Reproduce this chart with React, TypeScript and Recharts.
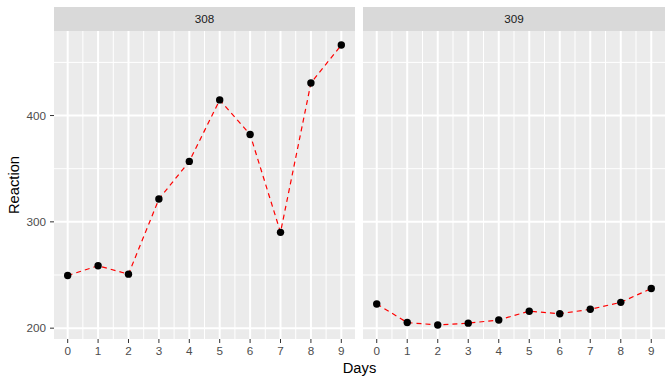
import React from "react";
import { LineChart, Line, XAxis, YAxis, CartesianGrid } from "recharts";

const days = [0, 1, 2, 3, 4, 5, 6, 7, 8, 9];
const reaction308 = [249.56, 258.7047, 250.8006, 321.4398, 356.8519, 414.6901, 382.2038, 290.1486, 430.5853, 466.3535];
const reaction309 = [222.7339, 205.2658, 202.9778, 204.707, 207.7161, 215.9618, 213.6303, 217.7272, 224.2957, 237.3142];
const subjects = ["308", "309"];
const yTicks = [200, 300, 400];
const yMinor = [250, 350, 450];
const xMinor = [0.5, 1.5, 2.5, 3.5, 4.5, 5.5, 6.5, 7.5, 8.5];

const allVals = [...reaction308, ...reaction309];
const yMin = Math.min(...allVals);
const yMax = Math.max(...allVals);
const yPad = (yMax - yMin) * 0.05;
const yDomain = [yMin - yPad, yMax + yPad];
const xDomain = [-0.45, 9.45];

const FONT = "'Liberation Sans', Arial, sans-serif";
const tickStyle = { fill: "#4D4D4D", fontSize: 11.7, fontFamily: FONT };

function Panel({ values, showY, left, width, marginLeft, marginRight }: any) {
  const data = days.map((d, i) => ({ day: d, reaction: values[i] }));
  return (
    <div style={{ position: "absolute", left, top: 0 }}>
      <LineChart width={width} height={384} data={data}
        margin={{ top: 31, right: marginRight, left: marginLeft, bottom: 25 }}>
        <CartesianGrid fill="#EBEBEB" stroke="#FFFFFF" strokeWidth={1}
          horizontalValues={yMinor} verticalValues={xMinor} />
        <CartesianGrid stroke="#FFFFFF" strokeWidth={2}
          horizontalValues={yTicks} verticalValues={days} />
        <XAxis dataKey="day" type="number" domain={xDomain} ticks={days}
          interval={0} height={20} axisLine={false}
          tickLine={{ stroke: "#333333", strokeWidth: 1 }} tickSize={4} tickMargin={3.5}
          tick={tickStyle} allowDataOverflow />
        <YAxis type="number" domain={yDomain} ticks={yTicks} hide={!showY}
          width={54} axisLine={false}
          tickLine={{ stroke: "#333333", strokeWidth: 1 }} tickSize={4} tickMargin={4}
          tick={tickStyle} allowDataOverflow />
        <Line dataKey="reaction" stroke="#FF0000" strokeWidth={1.2} strokeDasharray="5 4"
          isAnimationActive={false}
          dot={{ r: 3.7, fill: "#000000", stroke: "none" }} activeDot={false} />
      </LineChart>
    </div>
  );
}

export default function App() {
  return (
    <div style={{ position: "absolute", left: 0, top: 0, width: 672, height: 384, background: "#FFFFFF", fontFamily: FONT }}>
      <svg width={672} height={384} style={{ position: "absolute", left: 0, top: 0 }}>
        <rect x={54} y={7} width={301} height={24} fill="#D9D9D9" />
        <rect x={363} y={7} width={302} height={24} fill="#D9D9D9" />
        <text x={204.5} y={23} textAnchor="middle" fontSize={11.7} fill="#1A1A1A" fontFamily={FONT}>{subjects[0]}</text>
        <text x={514} y={23} textAnchor="middle" fontSize={11.7} fill="#1A1A1A" fontFamily={FONT}>{subjects[1]}</text>
        <text x={359.5} y={373} textAnchor="middle" fontSize={14.7} fill="#000000" fontFamily={FONT}>Days</text>
        <text x={19} y={185} textAnchor="middle" fontSize={14.7} fill="#000000" fontFamily={FONT}
          transform="rotate(-90 19 185)">Reaction</text>
      </svg>
      <Panel values={reaction308} showY={true} left={0} width={360} marginLeft={0} marginRight={5} />
      <Panel values={reaction309} showY={false} left={363} width={309} marginLeft={0} marginRight={7} />
    </div>
  );
}
